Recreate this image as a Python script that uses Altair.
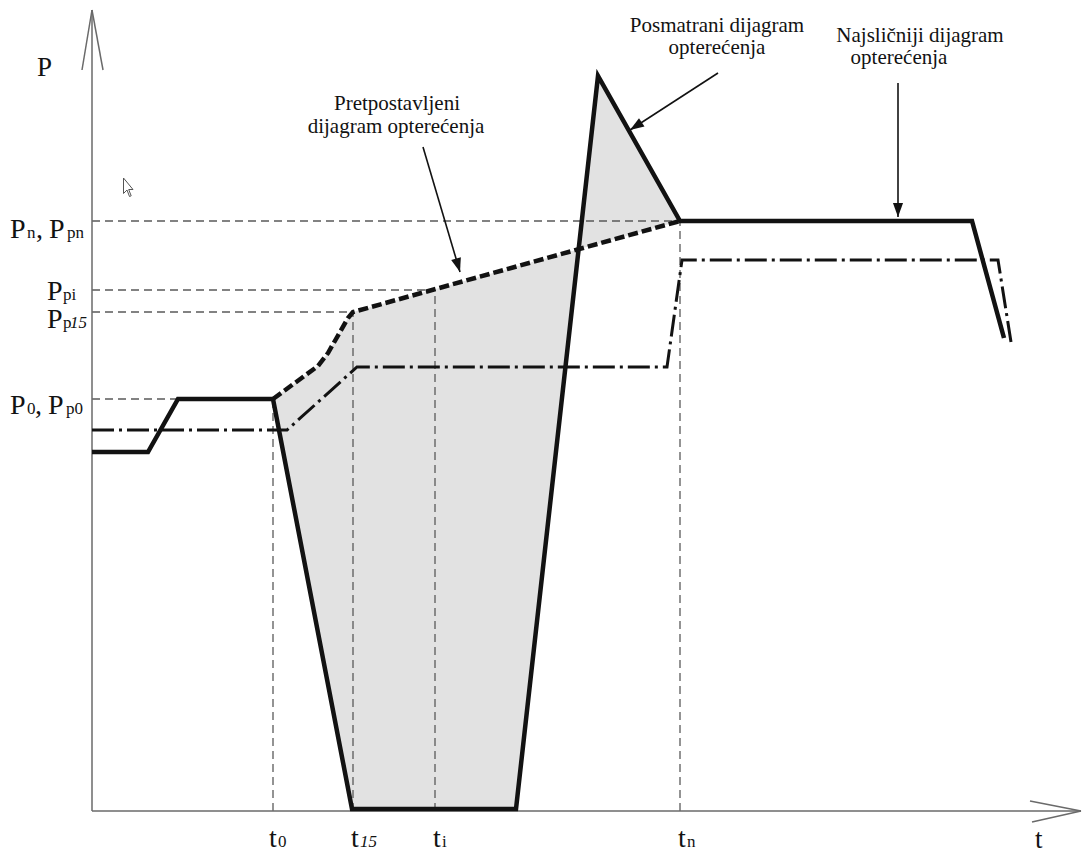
import altair as alt
import pandas as pd

# ---- data, in drawing units: t to the right of the P axis, P above the t axis ----
# Observed load diagram (Posmatrani dijagram opterećenja) - thick solid
obs_t = [0, 56, 86, 181, 260, 424, 506, 588, 880, 912]
obs_P = [359, 359, 412, 412, 2, 2, 735, 590, 590, 473]

# Assumed load diagram (Pretpostavljeni dijagram opterećenja) - thick dashed
asm_t = [181, 226, 236, 256, 261, 588]
asm_P = [412, 445, 458, 493, 499, 590]

# Most similar load diagram (Najsličniji dijagram opterećenja) - dash-dot
sim_t = [0, 195, 265, 575, 590, 906, 919]
sim_P = [381, 381, 444, 444, 551, 551, 469]

# reference levels (P) and instants (t)
lvl_names = ["P0", "Pp15", "Ppi", "Pn"]
lvl_P = [412, 499, 521, 590]
inst_names = ["t0", "t15", "ti", "tn"]
inst_t = [181, 261, 343, 588]

# axis ends
t_max = 989
P_max = 801

# label pieces: text, t, P
lab_main = ["P", ",", "P", "P", "P", "P", ",", "P", "t", "t", "t", "t"]
lab_main_t = [-82, -56, -43, -45, -45, -82, -57, -44, 177, 259, 341, 586]
lab_main_P = [573, 573, 573, 511, 483, 397, 397, 397, -36, -36, -36, -36]
lab_sub = ["n", "pn", "pi", "p", "0", "p0", "0", "i", "n"]
lab_sub_t = [-65, -25, -29, -29, -65, -26, 186, 350, 595]
lab_sub_P = [573, 573, 511, 483, 397, 397, -36, -36, -36]
lab_ital = ["15", "15"]
lab_ital_t = [-22, 268]
lab_ital_P = [483, -36]

# annotation text lines: text, t (centre), P
ann_text = ["Pretpostavljeni", "dijagram opterećenja",
            "Posmatrani dijagram", "opterećenja",
            "Najsličniji dijagram", "opterećenja"]
ann_t = [305, 304, 625, 625, 828, 807]
ann_P = [707, 684, 785, 763, 775, 753]

# annotation arrows: from (t, P) to (t2, P2)
arr_t = [331, 626, 806]
arr_P = [664, 738, 728]
arr_t2 = [368, 538, 806]
arr_P2 = [539, 681, 594]
arr_angle = [343.5, 57, 0]

# mouse pointer seen in the picture
cur_t = [36]
cur_P = [623]

# ---- tables ----
def seq(ts, Ps, name):
    return pd.DataFrame({"t": ts, "P": Ps, "i": range(len(ts)), "s": name})

obs = seq(obs_t, obs_P, "obs")
asm = seq(asm_t, asm_P, "asm")
sim = seq(sim_t, sim_P, "sim")

poly_pts = list(zip(asm_t, asm_P)) + list(zip(obs_t[3:8], obs_P[3:8]))[::-1]
poly = pd.DataFrame({"t": [p[0] for p in poly_pts], "P": [p[1] for p in poly_pts],
                     "i": range(len(poly_pts))})

# reference lines: horizontal from axis to instant, vertical from axis to level
ref = pd.DataFrame({
    "t": [0] * 4 + inst_t,
    "P": lvl_P + [0] * 4,
    "t2": inst_t + inst_t,
    "P2": lvl_P + lvl_P,
})

axes = pd.DataFrame({
    "t": [0, 0, -10, 11, 938, 940],
    "P": [0, 0, P_max - 60, P_max - 60, 10, -11],
    "t2": [0, t_max, 0, 0, t_max, t_max],
    "P2": [P_max, 0, P_max, P_max, 0, 0],
})

arrows = pd.DataFrame({"t": arr_t, "P": arr_P, "t2": arr_t2, "P2": arr_P2})
heads = pd.DataFrame({"t": arr_t2, "P": arr_P2, "a": arr_angle})
cursor = pd.DataFrame({"t": cur_t, "P": cur_P})

main_df = pd.DataFrame({"txt": lab_main, "t": lab_main_t, "P": lab_main_P})
sub_df = pd.DataFrame({"txt": lab_sub, "t": lab_sub_t, "P": lab_sub_P})
ital_df = pd.DataFrame({"txt": lab_ital, "t": lab_ital_t, "P": lab_ital_P})
ann_df = pd.DataFrame({"txt": ann_text, "t": ann_t, "P": ann_P})
axis_lab = pd.DataFrame({"txt": ["P", "t"], "t": [-55, 943], "P": [735, -37]})

# ---- scales ----
xs = alt.Scale(domain=[-84, 990], nice=False, zero=False)
ys = alt.Scale(domain=[-40, 803], nice=False, zero=False)
X = alt.X("t:Q", scale=xs, axis=None)
Y = alt.Y("P:Q", scale=ys, axis=None)

FONT = "Liberation Serif"
INK = "#121212"

shade = alt.Chart(poly).mark_line(fill="#e2e2e2", strokeWidth=0).encode(
    x=X, y=Y, order="i:Q")

refl = alt.Chart(ref).mark_rule(color="#5a5a5a", strokeWidth=1.3, strokeDash=[8, 5]).encode(
    x=X, y=Y, x2="t2:Q", y2="P2:Q")

axl = alt.Chart(axes).mark_rule(color="#6a6a6a", strokeWidth=1.5).encode(
    x=X, y=Y, x2="t2:Q", y2="P2:Q")

sim_l = alt.Chart(sim).mark_line(color=INK, strokeWidth=3, strokeDash=[22, 5, 3, 5],
                                 strokeJoin="miter").encode(x=X, y=Y, order="i:Q")
asm_l = alt.Chart(asm).mark_line(color=INK, strokeWidth=4.5, strokeDash=[10, 4],
                                 strokeJoin="miter").encode(x=X, y=Y, order="i:Q")
obs_l = alt.Chart(obs).mark_line(color=INK, strokeWidth=4.5,
                                 strokeJoin="miter").encode(x=X, y=Y, order="i:Q")

arr_l = alt.Chart(arrows).mark_rule(color=INK, strokeWidth=1.6).encode(
    x=X, y=Y, x2="t2:Q", y2="P2:Q")
arr_h = alt.Chart(heads).mark_point(
    shape="M0,0 L-0.36,-1 L0.36,-1 Z", filled=True, color=INK, size=784, opacity=1
).encode(x=X, y=Y, angle=alt.Angle("a:Q", scale=None))

cur_m = alt.Chart(cursor).mark_point(
    shape="M-0.45,-1 L-0.45,0.55 L-0.1,0.2 L0.15,0.85 L0.32,0.78 L0.07,0.15 L0.5,0.15 Z",
    filled=False, color="#555555", strokeWidth=1, size=400, opacity=1
).encode(x=X, y=Y)

t_main = alt.Chart(main_df).mark_text(font=FONT, fontSize=28, align="left",
                                      baseline="alphabetic", color=INK).encode(x=X, y=Y, text="txt:N")
t_sub = alt.Chart(sub_df).mark_text(font=FONT, fontSize=17, align="left",
                                    baseline="alphabetic", color=INK).encode(x=X, y=Y, text="txt:N")
t_ital = alt.Chart(ital_df).mark_text(font=FONT, fontSize=17, fontStyle="italic", align="left",
                                      baseline="alphabetic", color=INK).encode(x=X, y=Y, text="txt:N")
t_axis = alt.Chart(axis_lab).mark_text(font=FONT, fontSize=27, align="left",
                                       baseline="alphabetic", color=INK).encode(x=X, y=Y, text="txt:N")
t_ann = alt.Chart(ann_df).mark_text(font=FONT, fontSize=21, align="center",
                                    baseline="middle", color=INK).encode(x=X, y=Y, text="txt:N")

chart = alt.layer(
    shade, refl, axl, sim_l, asm_l, obs_l, arr_l, arr_h, cur_m,
    t_main, t_sub, t_ital, t_axis, t_ann
).properties(
    width=1074, height=843, padding=0,
    autosize=alt.AutoSizeParams(type="none"),
    background="white",
).configure_view(stroke=None)

chart.save("out.html", embed_options={"renderer": "svg", "actions": False})
